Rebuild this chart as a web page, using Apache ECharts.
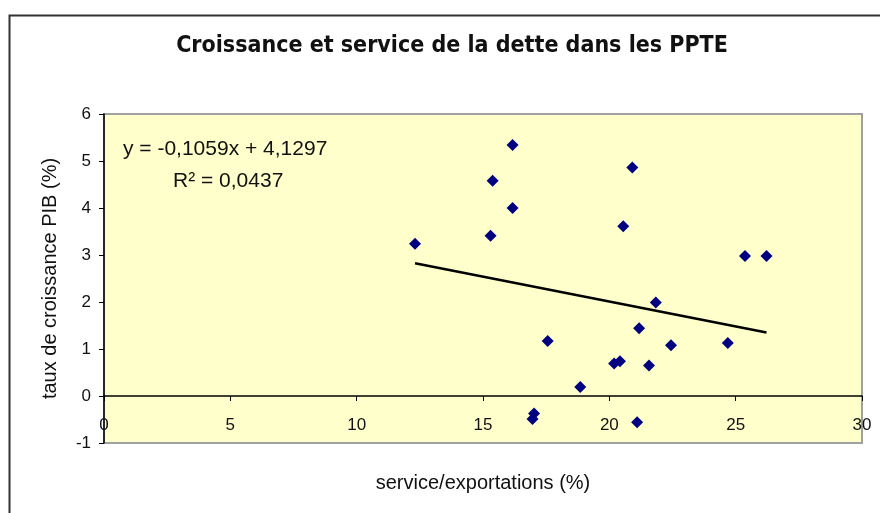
<!DOCTYPE html>
<html>
<head>
<meta charset="utf-8">
<script src="https://cdn.jsdelivr.net/npm/echarts@6/dist/echarts.min.js"></script>
<style>
	html, body { margin: 0; padding: 0; background: #fff; }
	#chart { width: 880px; height: 513px; }
</style>
</head>
<body>
<div id="chart"></div>
<script>
// service de la dette / exportations (%)
var serviceExport = [12.31, 15.38, 16.17, 16.17, 15.30, 17.56, 18.85, 17.02, 16.96, 20.91, 20.55,
	20.19, 20.42, 21.18, 21.57, 21.84, 22.44, 21.10, 24.69, 25.37, 26.22];
// taux de croissance PIB (%)
var croissancePIB = [3.24, 4.58, 5.34, 4.00, 3.41, 1.17, 0.19, -0.37, -0.49, 4.86, 3.61,
	0.69, 0.74, 1.44, 0.65, 1.99, 1.08, -0.56, 1.13, 2.98, 2.98];
// courbe de tendance (Excel)
var pente = -0.1059;
var ordonnee = 4.1297;
var r2 = 0.0437;

var xTicks = [0, 5, 10, 15, 20, 25, 30];
var yTicks = [-1, 0, 1, 2, 3, 4, 5, 6];

var points = [];
for(var i = 0; i < serviceExport.length; i++) {
	points.push([serviceExport[i], croissancePIB[i]]);
}
var xmin = Math.min.apply(null, serviceExport);
var xmax = Math.max.apply(null, serviceExport);
var tendance = [[xmin, pente * xmin + ordonnee], [xmax, pente * xmax + ordonnee]];

function frNum(v) {
	return String(v).replace(".", ",");
}

var chart = echarts.init(document.getElementById('chart'));
var txtFont = "'Liberation Sans', Arial, sans-serif";

// hauteur du graphe 329px pour 7 unités -> l'axe x (y = 0) est 47px au-dessus du bas
var gridTop = 114, gridBottom = 70;
var plotH = 513 - gridTop - gridBottom;
var zeroOffset = -plotH / (yTicks[yTicks.length - 1] - yTicks[0]) * (0 - yTicks[0]);

chart.setOption({
	animation: false,
	backgroundColor: '#ffffff',
	grid: {
		left: 104,
		top: gridTop,
		right: 18,
		bottom: gridBottom,
		outerBoundsMode: 'none',
		containLabel: false,
		show: true,
		backgroundColor: '#FFFFCC',
		borderColor: '#A0A0A0',
		borderWidth: 2
	},
	xAxis: {
		type: 'value',
		min: xTicks[0],
		max: xTicks[xTicks.length - 1],
		interval: 5,
		offset: zeroOffset,
		axisLine: { show: true, onZero: false, lineStyle: { color: '#000', width: 1.5 } },
		axisTick: { show: true, inside: false, length: 5, lineStyle: { color: '#000' } },
		axisLabel: { margin: 21, color: '#111', fontSize: 17, fontFamily: txtFont, showMinLabel: true, showMaxLabel: true },
		splitLine: { show: false },
		name: 'service/exportations (%)',
		nameLocation: 'middle',
		nameGap: 77,
		nameTextStyle: { color: '#111', fontSize: 20, fontFamily: txtFont }
	},
	yAxis: {
		type: 'value',
		min: yTicks[0],
		max: yTicks[yTicks.length - 1],
		interval: 1,
		axisLine: { show: true, onZero: false, lineStyle: { color: '#000', width: 1.5 } },
		axisTick: { show: true, length: 5, lineStyle: { color: '#000' } },
		axisLabel: { margin: 13, color: '#111', fontSize: 17, fontFamily: txtFont },
		splitLine: { show: false },
		name: 'taux de croissance PIB (%)',
		nameLocation: 'middle',
		nameGap: 44,
		nameRotate: 90,
		nameTextStyle: { color: '#111', fontSize: 20, fontFamily: txtFont }
	},
	graphic: [{
		type: 'rect',
		left: 7,
		top: 13,
		shape: { width: 900, height: 540 },
		style: { fill: 'none', stroke: '#333', lineWidth: 2 },
		silent: true
	}, {
		type: 'text',
		x: 452,
		y: 46,
		style: {
			text: 'Croissance et service de la dette dans les PPTE',
			font: "bold 23px 'Liberation Sans Narrow', 'DejaVu Sans Condensed', Arial, sans-serif",
			fill: '#111',
			textAlign: 'center',
			textVerticalAlign: 'middle'
		}
	}, {
		type: 'text',
		x: 123,
		y: 149,
		z: 10,
		style: {
			text: 'y = ' + frNum(pente) + 'x + ' + frNum(ordonnee),
			font: "21px " + txtFont,
			fill: '#111',
			textVerticalAlign: 'middle'
		}
	}, {
		type: 'text',
		x: 173,
		y: 181,
		z: 10,
		style: {
			text: 'R² = ' + frNum(r2),
			font: "21px " + txtFont,
			fill: '#111',
			textVerticalAlign: 'middle'
		}
	}],
	series: [{
		type: 'scatter',
		data: points,
		symbol: 'diamond',
		symbolSize: 12,
		itemStyle: { color: '#000080', opacity: 1 },
		z: 3
	}, {
		type: 'line',
		data: tendance,
		symbol: 'none',
		lineStyle: { color: '#000', width: 2.5 },
		z: 2
	}]
});
</script>
</body>
</html>
